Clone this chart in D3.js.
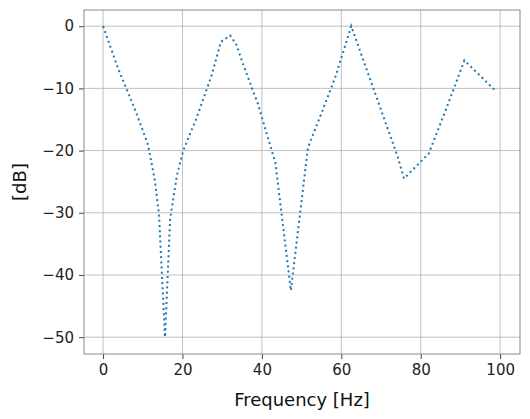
<!DOCTYPE html>
<html><head><meta charset="utf-8">
<script src="https://cdn.jsdelivr.net/npm/d3@7"></script>
<style>body{margin:0;background:#fff}text{font-family:"DejaVu Sans",sans-serif}</style>
</head><body><svg id="c" width="530" height="419"></svg>
<script>
// frequency response values
const freq = [0, 3.9, 7.8, 11.3, 13.1, 14.1, 15.6, 16.9, 18.6, 20.2, 23.4, 27.3, 29.7, 32, 33.6, 35.2, 39, 43.4, 47.3, 51.6, 55, 58.6, 62.5, 66.4, 70.3, 74.2, 75.8, 78.1, 82, 86, 91, 99];
const dB = [0, -7, -13, -19, -25, -30.4, -50, -30.9, -24, -20, -15, -8, -2.5, -1.5, -3, -6, -12.5, -22, -42.5, -19.5, -14, -8, 0, -7, -14, -21, -24.5, -23, -20.5, -14, -5.5, -10.5];
const xTicks = [0, 20, 40, 60, 80, 100];
const yTicks = [0, -10, -20, -30, -40, -50];

const svg = d3.select("#c");
const m = {l: 84, r: 10, t: 10, b: 65};
const W = 530, H = 419;
const x = d3.scaleLinear().domain([-4.8, 105]).range([m.l, W - m.r]);
const y = d3.scaleLinear().domain([2.6, -52.7]).range([m.t, H - m.b]);

// grid
svg.append("g").selectAll("line").data(xTicks).join("line")
  .attr("x1", d => x(d)).attr("x2", d => x(d)).attr("y1", m.t).attr("y2", H - m.b)
  .attr("stroke", "#b0b0b0").attr("stroke-width", 0.8);
svg.append("g").selectAll("line").data(yTicks).join("line")
  .attr("y1", d => y(d)).attr("y2", d => y(d)).attr("x1", m.l).attr("x2", W - m.r)
  .attr("stroke", "#b0b0b0").attr("stroke-width", 0.8);

const fmt = d => d < 0 ? "\u2212" + Math.abs(d) : d;
const xa = svg.append("g").attr("transform", `translate(0,${H - m.b})`)
  .call(d3.axisBottom(x).tickValues(xTicks).tickFormat(fmt).tickSize(5).tickPadding(5));
const ya = svg.append("g").attr("transform", `translate(${m.l},0)`)
  .call(d3.axisLeft(y).tickValues(yTicks).tickFormat(fmt).tickSize(5).tickPadding(5));
[xa, ya].forEach(a => {
  a.select(".domain").remove();
  a.selectAll("line").attr("stroke", "#444");
  a.selectAll("text").attr("font-size", 15).attr("fill", "#222");
});

svg.append("rect").attr("x", m.l).attr("y", m.t).attr("width", W - m.r - m.l).attr("height", H - m.b - m.t)
  .attr("fill", "none").attr("stroke", "#888").attr("stroke-width", 1);

svg.append("path").datum(freq.map((f, i) => [f, dB[i]]))
  .attr("d", d3.line().x(d => x(d[0])).y(d => y(d[1])))
  .attr("fill", "none").attr("stroke", "#1f77b4").attr("stroke-width", 2)
  .attr("stroke-dasharray", "2,3.2");

svg.append("text").attr("x", (m.l + W - m.r) / 2).attr("y", 406).attr("text-anchor", "middle")
  .attr("font-size", 18).attr("fill", "#111").text("Frequency [Hz]");
svg.append("text").attr("transform", `translate(26,${(m.t + H - m.b) / 2}) rotate(-90)`)
  .attr("text-anchor", "middle").attr("font-size", 18).attr("fill", "#111").text("[dB]");
</script></body></html>
